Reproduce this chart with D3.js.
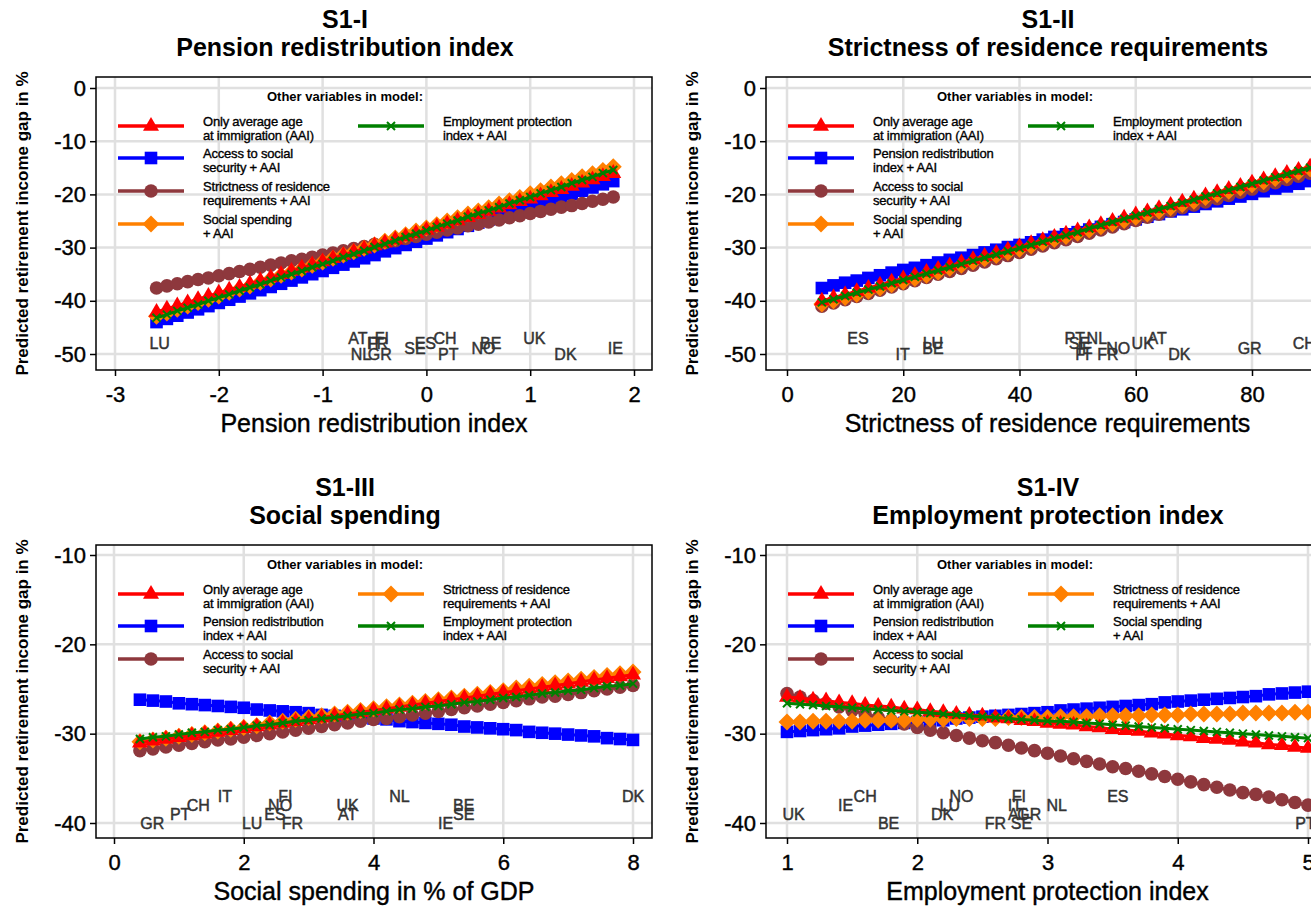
<!DOCTYPE html>
<html>
<head>
<meta charset="utf-8">
<script src="https://d3js.org/d3.v7.min.js"></script>
<style>
body { margin: 0; background: #fff; }
text { font-family: "Liberation Sans", Arial, sans-serif; }
</style>
</head>
<body>
<div id="viz"></div>
<script>
// ---- data: S1-I pension redistribution index ----
var p1_x = [-2.6,-2.5,-2.4,-2.3,-2.2,-2.1,-2.0,-1.9,-1.8,-1.7,-1.6,-1.5,-1.4,-1.3,-1.2,-1.1,-1.0,-0.9,-0.8,-0.7,-0.6,-0.5,-0.4,-0.3,-0.2,-0.1,0.0,0.1,0.2,0.3,0.4,0.5,0.6,0.7,0.8,0.9,1.0,1.1,1.2,1.3,1.4,1.5,1.6,1.7,1.8];
var p1_aai = [-42.1,-41.5,-40.9,-40.3,-39.7,-39.1,-38.5,-37.9,-37.4,-36.8,-36.2,-35.6,-35.0,-34.4,-33.8,-33.2,-32.6,-32.0,-31.4,-30.8,-30.2,-29.6,-29.1,-28.5,-27.9,-27.3,-26.7,-26.1,-25.5,-24.9,-24.3,-23.7,-23.1,-22.5,-21.9,-21.3,-20.8,-20.2,-19.6,-19.0,-18.4,-17.8,-17.2,-16.6,-16.0];
var p1_access = [-44.0,-43.4,-42.8,-42.2,-41.6,-41.0,-40.4,-39.8,-39.2,-38.6,-38.0,-37.4,-36.8,-36.2,-35.6,-35.0,-34.4,-33.8,-33.2,-32.6,-32.0,-31.4,-30.7,-30.1,-29.5,-28.9,-28.3,-27.7,-27.1,-26.5,-25.9,-25.3,-24.7,-24.1,-23.5,-22.9,-22.3,-21.7,-21.1,-20.5,-19.9,-19.3,-18.7,-18.1,-17.5];
var p1_strict = [-37.6,-37.2,-36.8,-36.4,-36.0,-35.7,-35.3,-34.9,-34.5,-34.1,-33.7,-33.3,-32.9,-32.5,-32.2,-31.8,-31.4,-31.0,-30.6,-30.2,-29.8,-29.4,-29.1,-28.7,-28.3,-27.9,-27.5,-27.1,-26.7,-26.3,-25.9,-25.6,-25.2,-24.8,-24.4,-24.0,-23.6,-23.2,-22.8,-22.4,-22.1,-21.7,-21.3,-20.9,-20.5];
var p1_spend = [-42.9,-42.3,-41.6,-41.0,-40.3,-39.7,-39.1,-38.4,-37.8,-37.2,-36.5,-35.9,-35.2,-34.6,-34.0,-33.3,-32.7,-32.0,-31.4,-30.8,-30.1,-29.5,-28.8,-28.2,-27.6,-26.9,-26.3,-25.7,-25.0,-24.4,-23.7,-23.1,-22.5,-21.8,-21.2,-20.6,-19.9,-19.3,-18.6,-18.0,-17.4,-16.7,-16.1,-15.5,-14.8];
var p1_epl = [-43.2,-42.6,-41.9,-41.3,-40.7,-40.0,-39.4,-38.8,-38.1,-37.5,-36.9,-36.2,-35.6,-35.0,-34.4,-33.7,-33.1,-32.5,-31.8,-31.2,-30.6,-29.9,-29.3,-28.7,-28.0,-27.4,-26.8,-26.1,-25.5,-24.9,-24.2,-23.6,-23.0,-22.4,-21.7,-21.1,-20.5,-19.8,-19.2,-18.6,-17.9,-17.3,-16.7,-16.0,-15.4];
var p1_cty  = ["LU","AT","FI","FR","IT","NL","GR","SE","ES","CH","PT","NO","BE","UK","DK","IE"];
var p1_ctyX = [-2.57,-0.66,-0.43,-0.47,-0.50,-0.63,-0.45,-0.11,-0.01,0.18,0.21,0.55,0.62,1.04,1.34,1.82];
var p1_ctyY = [-48,-47,-47,-48,-48,-50,-50,-49,-48,-47,-50,-49,-48,-47,-50,-49];
var p1_xticks = [-3,-2,-1,0,1,2];

// ---- data: S1-II strictness of residence requirements ----
var p2_x = [6,8,10,12,14,16,18,20,22,24,26,28,30,32,34,36,38,40,42,44,46,48,50,52,54,56,58,60,62,64,66,68,70,72,74,76,78,80,82,84,86,88,90];
var p2_aai = [-40.0,-39.4,-38.8,-38.2,-37.6,-37.0,-36.4,-35.8,-35.2,-34.6,-34.0,-33.4,-32.8,-32.2,-31.6,-31.0,-30.4,-29.8,-29.2,-28.6,-28.0,-27.4,-26.8,-26.2,-25.6,-25.0,-24.4,-23.8,-23.2,-22.6,-22.0,-21.4,-20.8,-20.2,-19.6,-19.0,-18.4,-17.8,-17.2,-16.6,-16.0,-15.4,-14.8];
var p2_pension = [-37.6,-37.1,-36.6,-36.2,-35.7,-35.2,-34.7,-34.2,-33.8,-33.3,-32.8,-32.3,-31.9,-31.4,-30.9,-30.4,-29.9,-29.5,-29.0,-28.5,-28.0,-27.5,-27.1,-26.6,-26.1,-25.6,-25.2,-24.7,-24.2,-23.7,-23.2,-22.8,-22.3,-21.8,-21.3,-20.8,-20.4,-19.9,-19.4,-18.9,-18.5,-18.0,-17.5];
var p2_access = [-41.0,-40.4,-39.8,-39.2,-38.6,-38.0,-37.4,-36.8,-36.2,-35.6,-35.0,-34.5,-33.9,-33.3,-32.7,-32.1,-31.5,-30.9,-30.3,-29.7,-29.1,-28.5,-27.9,-27.3,-26.7,-26.1,-25.5,-24.9,-24.3,-23.7,-23.1,-22.5,-22.0,-21.4,-20.8,-20.2,-19.6,-19.0,-18.4,-17.8,-17.2,-16.6,-16.0];
var p2_spend = [-40.6,-40.0,-39.4,-38.8,-38.2,-37.6,-37.0,-36.4,-35.8,-35.2,-34.6,-33.9,-33.3,-32.7,-32.1,-31.5,-30.9,-30.3,-29.7,-29.1,-28.5,-27.9,-27.3,-26.7,-26.1,-25.5,-24.9,-24.3,-23.7,-23.1,-22.5,-21.9,-21.3,-20.6,-20.0,-19.4,-18.8,-18.2,-17.6,-17.0,-16.4,-15.8,-15.2];
var p2_epl = [-40.3,-39.7,-39.1,-38.5,-37.9,-37.3,-36.7,-36.1,-35.5,-34.9,-34.3,-33.7,-33.1,-32.5,-31.9,-31.3,-30.7,-30.1,-29.5,-28.9,-28.3,-27.7,-27.1,-26.4,-25.8,-25.2,-24.6,-24.0,-23.4,-22.8,-22.2,-21.6,-21.0,-20.4,-19.8,-19.2,-18.6,-18.0,-17.4,-16.8,-16.2,-15.6,-15.0];
var p2_cty  = ["ES","IT","LU","BE","PT","SE","NL","FI","IE","FR","NO","UK","AT","DK","GR","CH"];
var p2_ctyX = [12.2,19.9,25.1,25.1,49.5,50.3,53.3,50.8,51.3,55.2,57.0,61.2,63.7,67.5,79.6,89.0];
var p2_ctyY = [-47,-50,-48,-49,-47,-48,-47,-50,-49,-50,-49,-48,-47,-50,-49,-48];
var p2_xticks = [0,20,40,60,80];

// ---- data: S1-III social spending ----
var p3_x = [0.4,0.6,0.8,1.0,1.2,1.4,1.6,1.8,2.0,2.2,2.4,2.6,2.8,3.0,3.2,3.4,3.6,3.8,4.0,4.2,4.4,4.6,4.8,5.0,5.2,5.4,5.6,5.8,6.0,6.2,6.4,6.6,6.8,7.0,7.2,7.4,7.6,7.8,8.0];
var p3_aai = [-31.0,-30.8,-30.6,-30.4,-30.2,-30.0,-29.8,-29.6,-29.4,-29.2,-29.0,-28.8,-28.6,-28.4,-28.2,-28.0,-27.8,-27.6,-27.4,-27.2,-27.0,-26.8,-26.6,-26.4,-26.2,-26.0,-25.8,-25.6,-25.4,-25.2,-25.0,-24.8,-24.6,-24.4,-24.2,-24.0,-23.8,-23.6,-23.4];
var p3_pension = [-26.2,-26.3,-26.4,-26.6,-26.7,-26.8,-26.9,-27.0,-27.1,-27.3,-27.4,-27.5,-27.6,-27.7,-27.9,-28.0,-28.1,-28.2,-28.3,-28.4,-28.6,-28.7,-28.8,-28.9,-29.0,-29.2,-29.3,-29.4,-29.5,-29.6,-29.8,-29.9,-30.0,-30.1,-30.2,-30.3,-30.5,-30.6,-30.7];
var p3_access = [-31.9,-31.7,-31.5,-31.3,-31.1,-30.9,-30.7,-30.6,-30.4,-30.2,-30.0,-29.8,-29.6,-29.4,-29.2,-29.0,-28.8,-28.6,-28.4,-28.3,-28.1,-27.9,-27.7,-27.5,-27.3,-27.1,-26.9,-26.7,-26.5,-26.3,-26.1,-25.9,-25.8,-25.6,-25.4,-25.2,-25.0,-24.8,-24.6];
var p3_strict = [-30.9,-30.7,-30.5,-30.3,-30.1,-29.9,-29.7,-29.5,-29.3,-29.1,-28.8,-28.6,-28.4,-28.2,-28.0,-27.8,-27.6,-27.4,-27.2,-27.0,-26.8,-26.6,-26.4,-26.2,-26.0,-25.8,-25.6,-25.4,-25.2,-24.9,-24.7,-24.5,-24.3,-24.1,-23.9,-23.7,-23.5,-23.3,-23.1];
var p3_epl = [-30.6,-30.4,-30.3,-30.1,-29.9,-29.8,-29.6,-29.5,-29.3,-29.1,-29.0,-28.8,-28.6,-28.5,-28.3,-28.2,-28.0,-27.8,-27.7,-27.5,-27.3,-27.2,-27.0,-26.9,-26.7,-26.5,-26.4,-26.2,-26.0,-25.9,-25.7,-25.5,-25.4,-25.2,-25.1,-24.9,-24.7,-24.6,-24.4];
var p3_cty  = ["GR","PT","CH","IT","LU","ES","NO","FI","FR","UK","AT","NL","IE","BE","SE","DK"];
var p3_ctyX = [0.59,1.02,1.30,1.71,2.13,2.48,2.56,2.64,2.75,3.60,3.60,4.40,5.11,5.39,5.39,8.00];
var p3_ctyY = [-40,-39,-38,-37,-40,-39,-38,-37,-40,-38,-39,-37,-40,-38,-39,-37];
var p3_xticks = [0,2,4,6,8];

// ---- data: S1-IV employment protection index ----
var p4_x = [1.0,1.1,1.2,1.3,1.4,1.5,1.6,1.7,1.8,1.9,2.0,2.1,2.2,2.3,2.4,2.5,2.6,2.7,2.8,2.9,3.0,3.1,3.2,3.3,3.4,3.5,3.6,3.7,3.8,3.9,4.0,4.1,4.2,4.3,4.4,4.5,4.6,4.7,4.8,4.9,5.0];
var p4_aai = [-25.9,-26.0,-26.2,-26.3,-26.5,-26.6,-26.8,-26.9,-27.0,-27.2,-27.3,-27.5,-27.6,-27.8,-27.9,-28.0,-28.2,-28.3,-28.5,-28.6,-28.8,-28.9,-29.0,-29.2,-29.3,-29.5,-29.6,-29.7,-29.9,-30.0,-30.2,-30.3,-30.5,-30.6,-30.7,-30.9,-31.0,-31.2,-31.3,-31.5,-31.6];
var p4_pension = [-29.8,-29.7,-29.6,-29.5,-29.4,-29.2,-29.1,-29.0,-28.9,-28.8,-28.7,-28.6,-28.5,-28.3,-28.2,-28.1,-28.0,-27.9,-27.8,-27.7,-27.6,-27.4,-27.3,-27.2,-27.1,-27.0,-26.9,-26.8,-26.7,-26.5,-26.4,-26.3,-26.2,-26.1,-26.0,-25.9,-25.8,-25.6,-25.5,-25.4,-25.3];
var p4_access = [-25.5,-25.9,-26.3,-26.6,-27.0,-27.4,-27.8,-28.2,-28.5,-28.9,-29.3,-29.6,-29.9,-30.2,-30.5,-30.8,-31.0,-31.3,-31.6,-31.9,-32.2,-32.5,-32.8,-33.1,-33.4,-33.7,-33.9,-34.2,-34.5,-34.8,-35.1,-35.4,-35.7,-36.0,-36.3,-36.6,-36.8,-37.1,-37.4,-37.7,-38.0];
var p4_strict = [-28.7,-28.7,-28.6,-28.6,-28.6,-28.6,-28.5,-28.5,-28.5,-28.5,-28.4,-28.4,-28.4,-28.3,-28.3,-28.3,-28.3,-28.2,-28.2,-28.2,-28.2,-28.1,-28.1,-28.1,-28.0,-28.0,-28.0,-28.0,-27.9,-27.9,-27.9,-27.8,-27.8,-27.8,-27.8,-27.7,-27.7,-27.7,-27.7,-27.6,-27.6];
var p4_spend = [-26.6,-26.7,-26.8,-26.9,-27.0,-27.1,-27.2,-27.3,-27.4,-27.5,-27.6,-27.7,-27.8,-27.9,-28.0,-28.1,-28.2,-28.3,-28.4,-28.5,-28.6,-28.6,-28.7,-28.8,-28.9,-29.0,-29.1,-29.2,-29.3,-29.4,-29.5,-29.6,-29.7,-29.8,-29.9,-30.0,-30.1,-30.2,-30.3,-30.4,-30.5];
var p4_cty  = ["UK","IE","CH","BE","DK","LU","NO","FR","SE","IT","AT","GR","FI","NL","ES","PT"];
var p4_ctyX = [1.05,1.45,1.60,1.78,2.19,2.25,2.34,2.60,2.80,2.75,2.77,2.86,2.78,3.07,3.54,4.98];
var p4_ctyY = [-39,-38,-37,-40,-39,-38,-37,-40,-40,-38,-39,-39,-37,-38,-37,-40];
var p4_xticks = [1,2,3,4,5];

var yticksTop = [0,-10,-20,-30,-40,-50];
var yticksBottom = [-10,-20,-30,-40];

var lbl_aai = ["Only average age", "at immigration (AAI)"];
var lbl_access = ["Access to social", "security + AAI"];
var lbl_strict = ["Strictness of residence", "requirements + AAI"];
var lbl_spend = ["Social spending", "+ AAI"];
var lbl_epl = ["Employment protection", "index + AAI"];
var lbl_pension = ["Pension redistribution", "index + AAI"];

// ---- drawing ----
var W = 1311, H = 910;
var svg = d3.select("#viz").append("svg").attr("width", W).attr("height", H);

// red triangle, blue square, maroon circle, orange diamond, green x
var colors = ["#ff0000", "#0000ff", "#8e383d", "#ff8000", "#008000"];
var shapes = ["tri", "sq", "circ", "dia", "x"];
var drawOrder = [1, 2, 3, 0, 4];

function shapePath(s) {
    if (s == "tri") return "M0,-9L8,4.8L-8,4.8Z";
    if (s == "sq") return "M-6.3,-6.3H6.3V6.3H-6.3Z";
    if (s == "circ") return d3.symbol().type(d3.symbolCircle).size(145)();
    if (s == "dia") return "M0,-8.5L8.5,0L0,8.5L-8.5,0Z";
    return "M-4,-4L4,4M-4,4L4,-4";
}

function addMarker(g, k, px, py) {
    var m = g.append("path")
        .attr("d", shapePath(shapes[k]))
        .attr("transform", "translate(" + px + "," + py + ")");
    if (shapes[k] == "x") m.attr("fill", "none").attr("stroke", colors[k]).attr("stroke-width", 2);
    else m.attr("fill", colors[k]);
}

// thicken small text a little, the original rendering is heavy
function heavy(sel, col, w) {
    sel.attr("stroke", col).attr("stroke-width", w).attr("paint-order", "stroke");
}

function drawPanel(p) {
    var g = svg.append("g");
    var f = p.frame;
    var x = d3.scaleLinear().domain([p.xticks[0], p.xticks[p.xticks.length - 1]]).range(p.xr);
    var y = d3.scaleLinear().domain([p.yticks[0], p.yticks[p.yticks.length - 1]]).range(p.yr);

    // gridlines
    g.selectAll(".hg").data(p.yticks).enter().append("line")
        .attr("x1", f.l).attr("x2", f.r)
        .attr("y1", function(d) { return y(d); }).attr("y2", function(d) { return y(d); })
        .attr("stroke", "#e0e0e0").attr("stroke-width", 2.5);
    g.selectAll(".vg").data(p.xticks).enter().append("line")
        .attr("y1", f.t).attr("y2", f.b)
        .attr("x1", function(d) { return x(d); }).attr("x2", function(d) { return x(d); })
        .attr("stroke", "#e0e0e0").attr("stroke-width", 2.5);

    // axes
    var ya = g.append("g").attr("transform", "translate(" + f.l + ",0)")
        .call(d3.axisLeft(y).tickValues(p.yticks).tickSize(6).tickSizeOuter(0).tickPadding(4)
            .tickFormat(function(d) { return String(d); }));
    var xa = g.append("g").attr("transform", "translate(0," + f.b + ")")
        .call(d3.axisBottom(x).tickValues(p.xticks).tickSize(6).tickSizeOuter(0).tickPadding(10)
            .tickFormat(function(d) { return String(d); }));
    [ya, xa].forEach(function(a) {
        a.select(".domain").remove();
        a.selectAll("line").attr("stroke", "#000").attr("stroke-width", 1.5);
        var t = a.selectAll("text").attr("font-size", 22).attr("fill", "#000")
            .style("font-family", "'Liberation Sans', Arial, sans-serif");
        heavy(t, "#000", 0.4);
    });

    // frame
    g.append("rect").attr("x", f.l).attr("y", f.t).attr("width", f.r - f.l).attr("height", f.b - f.t)
        .attr("fill", "none").attr("stroke", "#000").attr("stroke-width", 1.5);

    // titles
    g.append("text").attr("x", p.tx).attr("y", f.t - 49).attr("text-anchor", "middle")
        .attr("font-size", 25).attr("font-weight", "bold").text(p.title1);
    g.append("text").attr("x", p.tx).attr("y", f.t - 21).attr("text-anchor", "middle")
        .attr("font-size", 25).attr("font-weight", "bold").text(p.title2);
    heavy(g.append("text").attr("x", (f.l + f.r) / 2).attr("y", f.b + 62).attr("text-anchor", "middle")
        .attr("font-size", 25).text(p.xtitle), "#000", 0.4);
    g.append("text").attr("transform", "translate(" + (f.l - 74) + "," + ((f.t + f.b) / 2) + ") rotate(-90)")
        .attr("text-anchor", "middle").attr("dy", "0.35em")
        .attr("font-size", 17).attr("font-weight", "bold")
        .text("Predicted retirement income gap in %");

    // legend
    var lg = g.append("g");
    lg.append("text").attr("x", f.l + 249).attr("y", f.t + 24).attr("text-anchor", "middle")
        .attr("font-size", 13).attr("font-weight", "bold").text("Other variables in model:");
    var rowY = [49, 81, 114, 147];
    p.legend.forEach(function(e, k) {
        var cx = e.col == 0 ? f.l + 22 : f.l + 262;
        var cy = f.t + rowY[e.row];
        lg.append("line").attr("x1", cx).attr("x2", cx + 66).attr("y1", cy).attr("y2", cy)
            .attr("stroke", colors[k]).attr("stroke-width", 3.5);
        addMarker(lg, k, cx + 33, cy);
        var t = lg.append("text").attr("x", cx + 85).attr("y", cy).attr("font-size", 13)
            .attr("letter-spacing", "-0.2px");
        heavy(t, "#000", 0.35);
        t.append("tspan").attr("x", cx + 85).attr("dy", "0").text(e.text[0]);
        t.append("tspan").attr("x", cx + 85).attr("dy", "1.05em").text(e.text[1]);
    });

    // series
    var line = d3.line().x(function(d) { return x(d[0]); }).y(function(d) { return y(d[1]); });
    drawOrder.forEach(function(k) {
        var pts = p.xs.map(function(v, i) { return [v, p.series[k][i]]; });
        var sg = g.append("g");
        sg.append("path").datum(pts).attr("d", line).attr("fill", "none")
            .attr("stroke", colors[k]).attr("stroke-width", 3);
        pts.forEach(function(d) { addMarker(sg, k, x(d[0]), y(d[1])); });
    });

    // country labels
    var ct = g.selectAll(".cty").data(p.cty).enter().append("text")
        .attr("x", function(d, i) { return x(p.ctyX[i]); })
        .attr("y", function(d, i) { return y(p.ctyY[i]); })
        .attr("text-anchor", "middle").attr("dy", "0.35em")
        .attr("font-size", 16).attr("fill", "#333")
        .text(function(d) { return d; });
    heavy(ct, "#333", 0.45);
}

var topFrameL = {l: 96, r: 652, t: 77, b: 370};
var topFrameR = {l: 766, r: 1329, t: 77, b: 370};
var botFrameL = {l: 96, r: 652, t: 545, b: 838};
var botFrameR = {l: 766, r: 1329, t: 545, b: 838};

drawPanel({
    frame: topFrameL, xr: [115, 634], yr: [88, 354], tx: 345,
    xticks: p1_xticks, yticks: yticksTop, xs: p1_x,
    series: [p1_aai, p1_access, p1_strict, p1_spend, p1_epl],
    legend: [{col: 0, row: 0, text: lbl_aai}, {col: 0, row: 1, text: lbl_access},
             {col: 0, row: 2, text: lbl_strict}, {col: 0, row: 3, text: lbl_spend},
             {col: 1, row: 0, text: lbl_epl}],
    cty: p1_cty, ctyX: p1_ctyX, ctyY: p1_ctyY,
    title1: "S1-I", title2: "Pension redistribution index", xtitle: "Pension redistribution index"
});
drawPanel({
    frame: topFrameR, xr: [787, 1252], yr: [88, 354], tx: 1048,
    xticks: p2_xticks, yticks: yticksTop, xs: p2_x,
    series: [p2_aai, p2_pension, p2_access, p2_spend, p2_epl],
    legend: [{col: 0, row: 0, text: lbl_aai}, {col: 0, row: 1, text: lbl_pension},
             {col: 0, row: 2, text: lbl_access}, {col: 0, row: 3, text: lbl_spend},
             {col: 1, row: 0, text: lbl_epl}],
    cty: p2_cty, ctyX: p2_ctyX, ctyY: p2_ctyY,
    title1: "S1-II", title2: "Strictness of residence requirements", xtitle: "Strictness of residence requirements"
});
drawPanel({
    frame: botFrameL, xr: [114, 633], yr: [555, 823], tx: 345,
    xticks: p3_xticks, yticks: yticksBottom, xs: p3_x,
    series: [p3_aai, p3_pension, p3_access, p3_strict, p3_epl],
    legend: [{col: 0, row: 0, text: lbl_aai}, {col: 0, row: 1, text: lbl_pension},
             {col: 0, row: 2, text: lbl_access}, {col: 1, row: 0, text: lbl_strict},
             {col: 1, row: 1, text: lbl_epl}],
    cty: p3_cty, ctyX: p3_ctyX, ctyY: p3_ctyY,
    title1: "S1-III", title2: "Social spending", xtitle: "Social spending in % of GDP"
});
drawPanel({
    frame: botFrameR, xr: [787, 1308], yr: [555, 823], tx: 1048,
    xticks: p4_xticks, yticks: yticksBottom, xs: p4_x,
    series: [p4_aai, p4_pension, p4_access, p4_strict, p4_spend],
    legend: [{col: 0, row: 0, text: lbl_aai}, {col: 0, row: 1, text: lbl_pension},
             {col: 0, row: 2, text: lbl_access}, {col: 1, row: 0, text: lbl_strict},
             {col: 1, row: 1, text: lbl_spend}],
    cty: p4_cty, ctyX: p4_ctyX, ctyY: p4_ctyY,
    title1: "S1-IV", title2: "Employment protection index", xtitle: "Employment protection index"
});
</script>
</body>
</html>
